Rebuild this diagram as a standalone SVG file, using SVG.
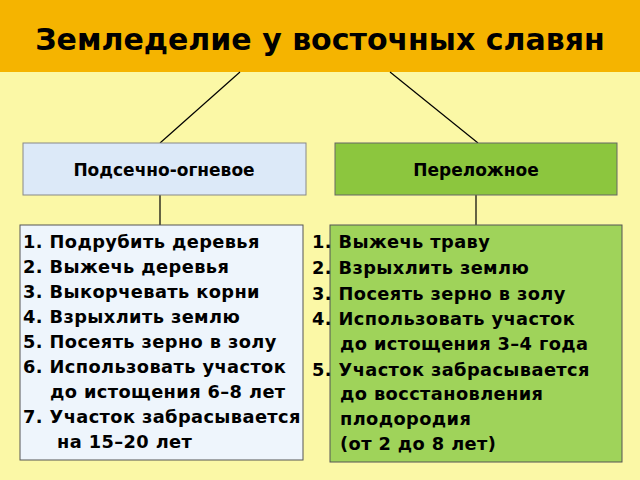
<svg xmlns="http://www.w3.org/2000/svg" width="640" height="480" viewBox="0 0 640 480">
<style>
text{font-family:"DejaVu Sans",sans-serif;fill:#000;font-weight:bold}
.t{font-size:17.8px;letter-spacing:0.4px}
.h{font-size:17px}
.ln{stroke:#000;stroke-width:1.2}
</style>
<rect width="640" height="480" fill="#fbf8a6"/>
<g id="title"><rect x="0" y="0" width="640" height="72" fill="#f5b400"/>
<text x="320" y="50" text-anchor="middle" style="font-size:30px">Земледелие у восточных славян</text></g>
<g id="connectors">
<line class="ln" x1="240" y1="72" x2="160" y2="143"/>
<line class="ln" x1="390" y1="72" x2="478" y2="143"/>
<line class="ln" x1="160" y1="195" x2="160" y2="225"/>
<line class="ln" x1="476" y1="195" x2="476" y2="225"/>
</g>
<g id="n1"><rect x="23" y="143" width="283" height="52" fill="#dce9f8" stroke="#888"/>
<text class="h" x="164" y="176" text-anchor="middle">Подсечно-огневое</text></g>
<g id="n2"><rect x="335" y="143" width="282" height="52" fill="#8cc63e" stroke="#666"/>
<text class="h" x="476" y="176" text-anchor="middle">Переложное</text></g>
<g id="n3"><rect x="20" y="225" width="283" height="235" fill="#eef5fc" stroke="#555"/>
<text class="t" x="23" y="248">1. Подрубить деревья</text>
<text class="t" x="23" y="273">2. Выжечь деревья</text>
<text class="t" x="23" y="298">3. Выкорчевать корни</text>
<text class="t" x="23" y="323">4. Взрыхлить землю</text>
<text class="t" x="23" y="348">5. Посеять зерно в золу</text>
<text class="t" x="23" y="373">6. Использовать участок</text>
<text class="t" x="50" y="398">до истощения 6–8 лет</text>
<text class="t" x="23" y="423">7. Участок забрасывается</text>
<text class="t" x="57" y="448">на 15–20 лет</text></g>
<g id="n4"><rect x="330" y="225" width="292" height="237" fill="#9fd35a" stroke="#555"/>
<text class="t" x="312" y="248">1. Выжечь траву</text>
<text class="t" x="312" y="274">2. Взрыхлить землю</text>
<text class="t" x="312" y="300">3. Посеять зерно в золу</text>
<text class="t" x="312" y="325">4. Использовать участок</text>
<text class="t" x="340" y="350">до истощения 3–4 года</text>
<text class="t" x="312" y="376">5. Участок забрасывается</text>
<text class="t" x="340" y="400">до восстановления</text>
<text class="t" x="340" y="425">плодородия</text>
<text class="t" x="340" y="450">(от 2 до 8 лет)</text></g>
</svg>
